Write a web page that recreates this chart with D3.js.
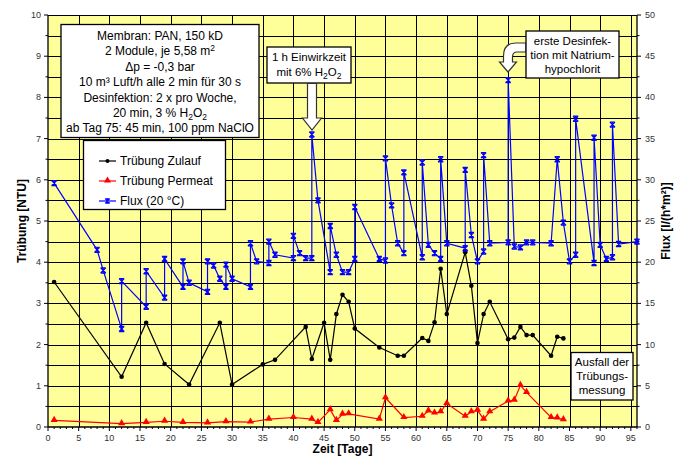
<!DOCTYPE html>
<html>
<head>
<meta charset="utf-8">
<script src="https://cdn.jsdelivr.net/npm/d3@7"></script>
<style>
  body { margin: 0; background: #fff; }
  svg text { font-family: Arial, "Liberation Sans", sans-serif; }
</style>
</head>
<body>
<div id="chart"></div>
<script>
// Declare constants
const FRAME_WIDTH = 688;
const FRAME_HEIGHT = 457;
const MARGINS = {left: 48, right: 51, top: 15, bottom: 30};

// Trübung Zulauf (NTU)
const zulaufDays = [1, 12, 16, 19, 23, 28, 30, 35, 37, 42, 43, 45, 46, 47, 48, 49, 50, 54, 57, 58, 61, 62, 63, 64, 65, 68, 69, 70, 71, 72, 75, 76, 77, 78, 79, 82, 83, 84];
const zulaufNTU = [3.52, 1.22, 2.53, 1.53, 1.03, 2.53, 1.03, 1.52, 1.63, 2.43, 1.65, 2.53, 1.63, 2.74, 3.21, 3.04, 2.39, 1.93, 1.73, 1.73, 2.16, 2.09, 2.54, 3.84, 2.74, 4.24, 3.43, 2.04, 2.74, 3.04, 2.13, 2.17, 2.43, 2.23, 2.23, 1.73, 2.19, 2.15];

// Trübung Permeat (NTU)
const permeatDays = [1, 12, 16, 19, 22, 26, 29, 33, 36, 40, 43, 44, 46, 47, 48, 49, 54, 55, 58, 61, 62, 63, 64, 65, 68, 69, 70, 71, 72, 75, 76, 77, 78, 82, 83, 84];
const permeatNTU = [0.16, 0.08, 0.11, 0.14, 0.11, 0.10, 0.13, 0.12, 0.19, 0.23, 0.19, 0.11, 0.42, 0.16, 0.31, 0.32, 0.19, 0.71, 0.23, 0.26, 0.39, 0.34, 0.37, 0.57, 0.26, 0.37, 0.41, 0.19, 0.37, 0.63, 0.65, 1.01, 0.84, 0.23, 0.22, 0.18];

// Flux (20 °C) in l/(h*m²)
const fluxDays = [1, 8, 9, 12, 12, 16, 16, 19, 19, 22, 22, 23, 26, 26, 27, 28, 29, 29, 30, 33, 33, 34, 36, 36, 37, 40, 40, 41, 42, 43, 43, 44, 46, 46, 47, 48, 49, 50, 50, 54, 55, 55, 56, 57, 58, 58, 61, 61, 62, 63, 64, 64, 65, 68, 68, 69, 70, 71, 71, 72, 75, 75, 76, 77, 78, 79, 82, 83, 84, 85, 86, 86, 89, 89, 90, 91, 92, 92, 93, 96];
const fluxValues = [29.6, 21.5, 19.0, 11.9, 17.7, 14.6, 18.9, 15.7, 20.4, 17.0, 20.1, 17.5, 16.4, 20.1, 19.6, 18.0, 17.0, 19.7, 18.0, 17.0, 22.3, 20.1, 19.9, 22.5, 20.9, 20.5, 23.2, 21.1, 20.5, 20.5, 35.5, 27.5, 18.8, 24.4, 20.9, 18.8, 18.8, 20.4, 26.7, 20.4, 20.2, 32.6, 26.9, 22.3, 21.1, 30.9, 20.6, 32.1, 22.1, 21.1, 20.4, 32.5, 22.3, 21.7, 31.2, 23.3, 20.1, 21.3, 33.0, 22.3, 22.4, 42.1, 21.9, 21.8, 22.4, 22.4, 22.3, 32.5, 24.8, 20.1, 20.9, 37.4, 19.9, 35.1, 22.1, 20.4, 20.6, 36.7, 22.2, 22.5];

// tick labels
const xTicks = d3.range(0, 96, 5);
const leftTicks = d3.range(0, 11, 1);
const rightTicks = d3.range(0, 51, 5);

const svg = d3.select("#chart")
  .append("svg")
    .attr("width", FRAME_WIDTH)
    .attr("height", FRAME_HEIGHT);

const x = d3.scaleLinear().domain([0, 96]).range([MARGINS.left, FRAME_WIDTH - MARGINS.right]);
const yL = d3.scaleLinear().domain([0, 10]).range([FRAME_HEIGHT - MARGINS.bottom, MARGINS.top]);
const yR = d3.scaleLinear().domain([0, 50]).range([FRAME_HEIGHT - MARGINS.bottom, MARGINS.top]);

const x0 = x.range()[0], x1 = x.range()[1];
const y0 = yL.range()[0], y1 = yL.range()[1];

// plot background
svg.append("rect")
  .attr("x", x0).attr("y", y1)
  .attr("width", x1 - x0).attr("height", y0 - y1)
  .attr("fill", "#ffff99");

// grid lines
svg.append("g").selectAll("line")
  .data(d3.range(0.5, 10.01, 0.5))
  .join("line")
    .attr("x1", x0).attr("x2", x1)
    .attr("y1", d => Math.round(yL(d)) + 0.5).attr("y2", d => Math.round(yL(d)) + 0.5)
    .attr("stroke", "#000").attr("stroke-width", 1);

svg.append("g").selectAll("line")
  .data(d3.range(5, 96, 5))
  .join("line")
    .attr("x1", d => Math.round(x(d)) + 0.5).attr("x2", d => Math.round(x(d)) + 0.5)
    .attr("y1", y1).attr("y2", y0)
    .attr("stroke", "#000").attr("stroke-width", 1);

// axes
const axisG = svg.append("g").attr("stroke", "#000");
axisG.append("line").attr("x1", x0).attr("x2", x0).attr("y1", y1).attr("y2", y0).attr("stroke-width", 1.3);
axisG.append("line").attr("x1", x1).attr("x2", x1).attr("y1", y1).attr("y2", y0).attr("stroke-width", 1.3);
axisG.append("line").attr("x1", x0).attr("x2", x1).attr("y1", y0).attr("y2", y0).attr("stroke-width", 1.3);

// left ticks
axisG.selectAll(".lt")
  .data(d3.range(0, 10.01, 0.5))
  .join("line")
    .attr("x1", x0).attr("x2", d => x0 - (d % 1 === 0 ? 4 : 2.5))
    .attr("y1", d => yL(d)).attr("y2", d => yL(d));
// right ticks
axisG.selectAll(".rt")
  .data(d3.range(0, 50.01, 2.5))
  .join("line")
    .attr("x1", x1).attr("x2", d => x1 + (d % 5 === 0 ? 4 : 2.5))
    .attr("y1", d => yR(d)).attr("y2", d => yR(d));
// bottom ticks
axisG.selectAll(".bt")
  .data(d3.range(0, 97, 1))
  .join("line")
    .attr("x1", d => x(d)).attr("x2", d => x(d))
    .attr("y1", y0).attr("y2", d => y0 + (d % 5 === 0 ? 4 : 2));

const tickFont = {size: "9px", fill: "#333"};

svg.append("g").selectAll("text")
  .data(leftTicks)
  .join("text")
    .attr("x", x0 - 7).attr("y", d => yL(d) + 3)
    .attr("text-anchor", "end")
    .attr("font-size", tickFont.size).attr("fill", tickFont.fill)
    .text(d => d);

svg.append("g").selectAll("text")
  .data(rightTicks)
  .join("text")
    .attr("x", x1 + 8).attr("y", d => yR(d) + 3)
    .attr("text-anchor", "start")
    .attr("font-size", tickFont.size).attr("fill", tickFont.fill)
    .text(d => d);

svg.append("g").selectAll("text")
  .data(xTicks)
  .join("text")
    .attr("x", d => x(d)).attr("y", y0 + 14)
    .attr("text-anchor", "middle")
    .attr("font-size", tickFont.size).attr("fill", tickFont.fill)
    .text(d => d);

// axis titles
svg.append("text")
  .attr("transform", `translate(26,${(y0 + y1) / 2}) rotate(-90)`)
  .attr("text-anchor", "middle")
  .attr("font-size", "12px").attr("font-weight", "bold")
  .text("Trübung [NTU]");

svg.append("text")
  .attr("transform", `translate(670,${(y0 + y1) / 2}) rotate(-90)`)
  .attr("text-anchor", "middle")
  .attr("font-size", "12px").attr("font-weight", "bold")
  .text("Flux [l/(h*m²)]");

svg.append("text")
  .attr("x", (x0 + x1) / 2).attr("y", 453)
  .attr("text-anchor", "middle")
  .attr("font-size", "12px").attr("font-weight", "bold")
  .text("Zeit [Tage]");

// series
const zulauf = zulaufDays.map((d, i) => [d, zulaufNTU[i]]);
const permeat = permeatDays.map((d, i) => [d, permeatNTU[i]]);
const flux = fluxDays.map((d, i) => [d, fluxValues[i]]);

const lineL = d3.line().x(d => x(d[0])).y(d => yL(d[1]));
const lineR = d3.line().x(d => x(d[0])).y(d => yR(d[1]));

svg.append("path").datum(zulauf).attr("d", lineL)
  .attr("fill", "none").attr("stroke", "#000").attr("stroke-width", 1.2);
svg.append("g").selectAll("circle")
  .data(zulauf)
  .join("circle")
    .attr("cx", d => x(d[0])).attr("cy", d => yL(d[1]))
    .attr("r", 2.3).attr("fill", "#000");

svg.append("path").datum(permeat).attr("d", lineL)
  .attr("fill", "none").attr("stroke", "#ff0000").attr("stroke-width", 1.2);
const tri = d3.symbol().type(d3.symbolTriangle).size(22);
svg.append("g").selectAll("path")
  .data(permeat)
  .join("path")
    .attr("d", tri)
    .attr("transform", d => `translate(${x(d[0])},${yL(d[1]) - 0.5})`)
    .attr("fill", "#ff0000");

// star marker (x with bars)
function starMarker(s) {
  return `M${-s},${-s}L${s},${s}M${-s},${s}L${s},${-s}M${-s},${-s}L${s},${-s}M${-s},${s}L${s},${s}M0,${-s}L0,${s}`;
}
svg.append("path").datum(flux).attr("d", lineR)
  .attr("fill", "none").attr("stroke", "#0000ff").attr("stroke-width", 1.2);
svg.append("g").selectAll("path")
  .data(flux)
  .join("path")
    .attr("d", starMarker(2.6))
    .attr("transform", d => `translate(${x(d[0])},${yR(d[1])})`)
    .attr("fill", "none").attr("stroke", "#0000ff").attr("stroke-width", 1.2);

// text with sub/superscripts; shift is carried to the next normal tspan
function richText(g, parts, cx, cy, size) {
  const t = g.append("text")
    .attr("x", cx).attr("y", cy)
    .attr("text-anchor", "middle")
    .attr("font-size", size);
  let back = 0;
  parts.forEach(p => {
    if (typeof p === "string") {
      const sp = t.append("tspan").text(p);
      if (back) sp.attr("dy", back);
      back = 0;
    } else if (p.sup) {
      t.append("tspan").attr("dy", -4 + back).attr("font-size", "8.5px").text(p.sup);
      back = 4;
    } else if (p.sub) {
      t.append("tspan").attr("dy", 2.5 + back).attr("font-size", "8.5px").text(p.sub);
      back = -2.5;
    }
  });
  return t;
}

// info box
const info = svg.append("g");
info.append("rect")
  .attr("x", 61).attr("y", 24.5).attr("width", 198).attr("height", 113)
  .attr("fill", "#fff").attr("stroke", "#000").attr("stroke-width", 1.3);

const infoLines = [
  ["Membran: PAN, 150 kD"],
  ["2 Module, je 5,58 m", {sup: "2"}],
  ["\u0394p = -0,3 bar"],
  ["10 m³ Luft/h alle 2 min für 30 s"],
  ["Desinfektion: 2 x pro Woche,"],
  ["20 min, 3 % H", {sub: "2"}, "O", {sub: "2"}],
  ["ab Tag 75: 45 min, 100 ppm NaClO"]
];
infoLines.forEach((ln, i) => richText(info, ln, 160, 40 + i * 15.4, "12px"));

// legend
const legend = svg.append("g");
legend.append("rect")
  .attr("x", 83.5).attr("y", 140.5).attr("width", 142).attr("height", 69)
  .attr("fill", "#fff").attr("stroke", "#000").attr("stroke-width", 1.3);

const legendItems = [
  {label: "Trübung Zulauf", color: "#000", marker: "circle"},
  {label: "Trübung Permeat", color: "#ff0000", marker: "triangle"},
  {label: "Flux (20 °C)", color: "#0000ff", marker: "star"}
];
legendItems.forEach((it, i) => {
  const ly = 161 + i * 20;
  legend.append("line")
    .attr("x1", 99).attr("x2", 116).attr("y1", ly).attr("y2", ly)
    .attr("stroke", it.color).attr("stroke-width", 1.2);
  if (it.marker === "circle") {
    legend.append("circle").attr("cx", 107.5).attr("cy", ly).attr("r", 2).attr("fill", it.color);
  } else if (it.marker === "triangle") {
    legend.append("path").attr("d", tri).attr("transform", `translate(107.5,${ly - 0.5})`).attr("fill", it.color);
  } else {
    legend.append("path").attr("d", starMarker(2.3)).attr("transform", `translate(107.5,${ly})`)
      .attr("fill", "none").attr("stroke", it.color).attr("stroke-width", 1.1);
  }
  legend.append("text")
    .attr("x", 120).attr("y", ly + 4)
    .attr("font-size", "12px")
    .text(it.label);
});

// annotation 1 h Einwirkzeit
const ann1 = svg.append("g");
ann1.append("rect")
  .attr("x", 267).attr("y", 47).attr("width", 84).attr("height", 36)
  .attr("fill", "#fff").attr("stroke", "#000").attr("stroke-width", 1.3);
richText(ann1, ["1 h Einwirkzeit"], 309, 61, "11.5px");
richText(ann1, ["mit 6% H", {sub: "2"}, "O", {sub: "2"}], 309, 76, "11.5px");
ann1.append("path")
  .attr("d", "M307.5,83.5 L307.5,118 L302.5,118 L312,130 L321.5,118 L316.5,118 L316.5,83.5 Z")
  .attr("fill", "#fff").attr("stroke", "#333").attr("stroke-width", 1.2);

// annotation erste Desinfektion
const ann2 = svg.append("g");
ann2.append("path")
  .attr("d", "M526,43 L516,43 Q503.5,43 503.5,56 L503.5,62 L499.5,62 L508,72 L516.5,62 L512.5,62 L512.5,57 Q512.5,52 517,52 L526,52 Z")
  .attr("fill", "#fff").attr("stroke", "#333").attr("stroke-width", 1.2);
ann2.append("rect")
  .attr("x", 526).attr("y", 31).attr("width", 93).attr("height", 47)
  .attr("fill", "#fff").attr("stroke", "#000").attr("stroke-width", 1.3);
["erste Desinfek-", "tion mit Natrium-", "hypochlorit"].forEach((t, i) =>
  richText(ann2, [t], 572.5, 45 + i * 14, "11.5px"));

// annotation Ausfall
const ann3 = svg.append("g");
ann3.append("rect")
  .attr("x", 571).attr("y", 352.5).attr("width", 62).attr("height", 47.5)
  .attr("fill", "#fff").attr("stroke", "#000").attr("stroke-width", 1.3);
["Ausfall der", "Trübungs-", "messung"].forEach((t, i) =>
  richText(ann3, [t], 602, 366 + i * 14, "11.5px"));
</script>
</body>
</html>
